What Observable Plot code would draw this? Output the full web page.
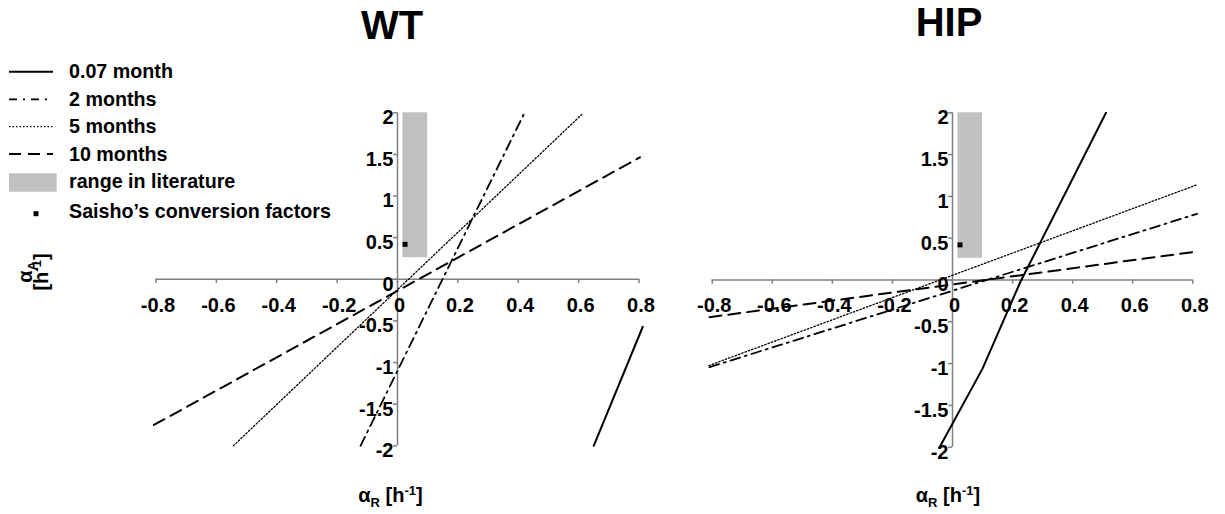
<!DOCTYPE html>
<html><head><meta charset="utf-8">
<script src="https://cdn.jsdelivr.net/npm/d3@7"></script>
<script src="https://cdn.jsdelivr.net/npm/@observablehq/plot@0.6"></script>
<style>
body{margin:0;background:#fff}
#wrap{position:relative;width:1225px;height:514px;overflow:hidden;background:#fff}
#wrap svg{position:absolute;top:0;overflow:visible}
</style>
</head><body><div id="wrap"></div>
<script>
// ---- data ----
const seriesNames = ["0.07 month", "2 months", "5 months", "10 months"];
const xTicks = [-0.8, -0.6, -0.4, -0.2, 0, 0.2, 0.4, 0.6, 0.8];
const yTicks = [-2, -1.5, -1, -0.5, 0, 0.5, 1, 1.5, 2];

// WT lines (alpha_R, alpha_A)
const wt007X = [0.65, 0.8125];   const wt007Y = [-2, -0.57];
const wt2X   = [-0.1225, 0.4207]; const wt2Y   = [-2, 2];
const wt5X   = [-0.544, 0.612];   const wt5Y   = [-2, 1.985];
const wt10X  = [-0.807, 0.803];   const wt10Y  = [-1.75, 1.465];

// HIP lines
const hip007X = [-0.043, 0.10, 0.225, 0.511]; const hip007Y = [-2, -1.06, -0.03, 2];
const hip2X   = [-0.809, 0.814]; const hip2Y   = [-1.043, 0.792];
const hip5X   = [-0.811, 0.814]; const hip5Y   = [-1.023, 1.139];
const hip10X  = [-0.809, 0.814]; const hip10Y  = [-0.445, 0.341];

// literature range and Saisho's factors
const rangeX = [0.018, 0.1];
const rangeY = [0.26, 2];
const saishoX = [0.025];
const saishoY = [0.42];

// ---- styles ----
const FONT = "'Liberation Sans', Arial, Helvetica, sans-serif";
const styles = [
  {width: 2, dash: null},
  {width: 1.8, dash: "10,5,2,5"},
  {width: 1.3, dash: "1.5,2"},
  {width: 2, dash: "12,7"}
];
const AXIS = "#808080";

function pts(xs, ys) { return d3.zip(xs, ys).map(([x, y]) => ({x, y})); }
const fmt = d => String(+d.toFixed(1));

function panel(lineSets, geo) {
  const marks = [
    Plot.rect([0], {x1: () => rangeX[0], x2: () => rangeX[1], y1: () => rangeY[0], y2: () => rangeY[1], fill: "#c0c0c0"}),
    Plot.ruleY([0], {x1: xTicks[0], x2: xTicks[xTicks.length - 1], stroke: AXIS, strokeWidth: 1.5}),
    Plot.ruleX([0], {y1: yTicks[0], y2: yTicks[yTicks.length - 1], stroke: AXIS, strokeWidth: 1.5}),
    Plot.ruleX(xTicks, {x: d => d, y1: 0, y2: -0.05, stroke: AXIS, strokeWidth: 1.5}),
    Plot.ruleY(yTicks, {y: d => d, x1: 0, x2: -0.013, stroke: AXIS, strokeWidth: 1.5}),
    Plot.text(xTicks, {x: d => d, y: 0, text: fmt, dy: 26, dx: 2, fontSize: 20, fontWeight: "bold", fill: "black"}),
    Plot.text(yTicks, {x: 0, y: d => d, text: fmt, textAnchor: "end", dx: -4, dy: 5, fontSize: 20, fontWeight: "bold", fill: "black"})
  ];
  lineSets.forEach((ls, i) => {
    marks.push(Plot.line(pts(ls[0], ls[1]), {x: "x", y: "y", stroke: "black",
      strokeWidth: styles[i].width, strokeDasharray: styles[i].dash}));
  });
  marks.push(Plot.dot(pts(saishoX, saishoY), {x: "x", y: "y", symbol: "square", r: 2.8, fill: "black", stroke: "none"}));
  const svg = Plot.plot({
    width: geo.width, height: 514,
    marginLeft: geo.ml, marginRight: geo.mr, marginTop: 112.3, marginBottom: geo.mb,
    x: {domain: [-0.8, 0.8], axis: null},
    y: {domain: [-2, 2], axis: null},
    style: {fontFamily: FONT, background: "transparent", overflow: "visible"},
    marks
  });
  svg.style.left = geo.left + "px";
  svg.style.maxWidth = "none";
  return svg;
}

const wrap = document.getElementById("wrap");
wrap.appendChild(panel([[wt007X, wt007Y], [wt2X, wt2Y], [wt5X, wt5Y], [wt10X, wt10Y]],
  {left: 0, width: 700, ml: 155.5, mr: 61.5, mb: 68.7}));
wrap.appendChild(panel([[hip007X, hip007Y], [hip2X, hip2Y], [hip5X, hip5Y], [hip10X, hip10Y]],
  {left: 660, width: 565, ml: 51.7, mr: 32.7, mb: 67.3}));

// ---- overlay: titles, axis titles, legend ----
const ov = d3.select(wrap).append("svg")
  .attr("width", 1225).attr("height", 514)
  .style("left", "0px").style("font-family", FONT).style("font-weight", "bold");

ov.append("text").attr("x", 392).attr("y", 39.3).attr("text-anchor", "middle").attr("font-size", 40).text("WT");
ov.append("text").attr("x", 949).attr("y", 36).attr("text-anchor", "middle").attr("font-size", 40).text("HIP");

function xTitle(cx) {
  const t = ov.append("text").attr("x", cx).attr("y", 501.5).attr("text-anchor", "middle").attr("font-size", 20);
  t.append("tspan").text("\u03b1");
  t.append("tspan").attr("font-size", 13).attr("dy", 5).text("R");
  t.append("tspan").attr("dy", -5).text(" [h");
  t.append("tspan").attr("font-size", 13).attr("dy", -7).text("-1");
  t.append("tspan").attr("dy", 7).text("]");
}
xTitle(390.5);
xTitle(948);

const yg = ov.append("g").attr("transform", "translate(0,272) rotate(-90)");
const y1 = yg.append("text").attr("x", 0).attr("y", 32).attr("text-anchor", "middle").attr("font-size", 20);
y1.append("tspan").text("\u03b1");
y1.append("tspan").attr("font-size", 13).attr("dy", 5).text("A");
const y2 = yg.append("text").attr("x", 0).attr("y", 48).attr("text-anchor", "middle").attr("font-size", 20);
y2.append("tspan").text("[h");
y2.append("tspan").attr("font-size", 13).attr("dy", -7).text("-1");
y2.append("tspan").attr("dy", 7).text("]");

// legend
const legLineY = [71.7, 99.3, 126.7, 154];
const legTextY = [78.3, 105.7, 133.3, 160.7];
seriesNames.forEach((name, i) => {
  ov.append("line").attr("x1", 9).attr("x2", 53).attr("y1", legLineY[i]).attr("y2", legLineY[i])
    .attr("stroke", "black").attr("stroke-width", styles[i].width)
    .attr("stroke-dasharray", i === 1 ? "8,6,2,6" : styles[i].dash);
  ov.append("text").attr("x", 69).attr("y", legTextY[i]).attr("font-size", 19.7).text(name);
});
ov.append("rect").attr("x", 9).attr("y", 173.3).attr("width", 47.7).attr("height", 18.4).attr("fill", "#c0c0c0");
ov.append("text").attr("x", 69).attr("y", 188.3).attr("font-size", 19.7).text("range in literature");
ov.append("rect").attr("x", 33.5).attr("y", 211.2).attr("width", 5).attr("height", 5).attr("fill", "black");
ov.append("text").attr("x", 69).attr("y", 218.3).attr("font-size", 19.7).text("Saisho\u2019s conversion factors");
</script>
</body></html>
